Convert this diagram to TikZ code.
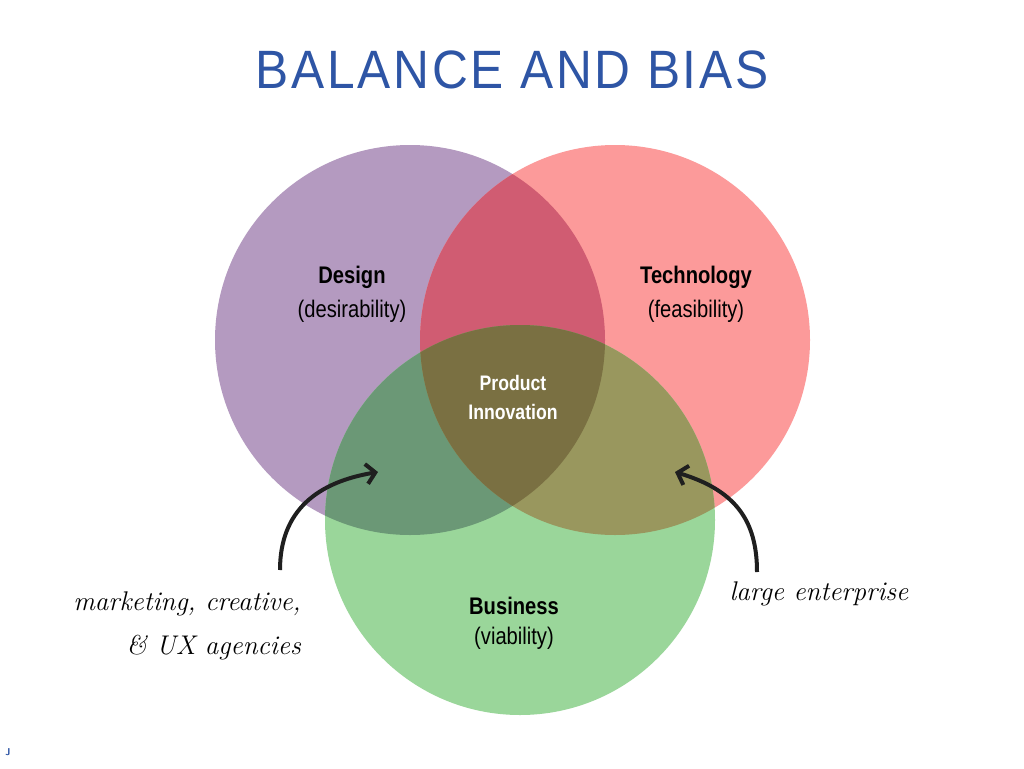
\documentclass[tikz,border=0pt]{standalone}
\usepackage{fontspec}
\usetikzlibrary{arrows.meta}
\newfontfamily\titlefont[LetterSpace=5,FakeStretch=0.92]{Liberation Sans}
\newfontfamily\condfont[FakeStretch=0.84]{Liberation Sans}
\definecolor{cpurple}{RGB}{180,154,192}
\definecolor{cred}{RGB}{252,154,154}
\definecolor{cgreen}{RGB}{154,214,154}
\definecolor{cpr}{RGB}{208,92,114}
\definecolor{cpg}{RGB}{107,152,118}
\definecolor{crg}{RGB}{153,151,94}
\definecolor{call}{RGB}{122,112,66}
\definecolor{ctitle}{RGB}{46,85,165}
\begin{document}
\begin{tikzpicture}[x=1pt,y=-1pt,
  lbold/.style={font=\condfont\bfseries\fontsize{24}{28}\selectfont, inner sep=0pt},
  lreg/.style={font=\condfont\fontsize{24}{28}\selectfont, inner sep=0pt},
  hand/.style={font=\itshape\fontsize{27}{34}\selectfont, inner sep=0pt},
  arr/.style={line width=4pt, color=black!88, -{Straight Barb[length=9pt,width=20pt,line width=4pt]}}]
\useasboundingbox (0,0) rectangle (1024,768);
\fill[white] (0,0) rectangle (1024,768);
\def\cP{(410,340) circle[radius=195]}
\def\cR{(615,340) circle[radius=195]}
\def\cG{(520,520) circle[radius=195]}
\fill[cpurple] \cP;
\fill[cred] \cR;
\fill[cgreen] \cG;
\begin{scope}\clip \cP; \fill[cpr] \cR; \fill[cpg] \cG; \end{scope}
\begin{scope}\clip \cR; \fill[crg] \cG; \end{scope}
\begin{scope}\clip \cP; \clip \cR; \fill[call] \cG; \end{scope}
\node[font=\titlefont\fontsize{54}{60}\selectfont, text=ctitle, inner sep=0pt] (title) at (512,70) {BALANCE AND BIAS};
\node[lbold] (design) at (352,277) {Design};
\node[lreg] (designs) at (352,311) {(desirability)};
\node[lbold] (tech) at (696,277) {Technology};
\node[lreg] (techs) at (696,311) {(feasibility)};
\node[lbold, text=white, font=\condfont\bfseries\fontsize{21}{25}\selectfont] (prod) at (513,383) {Product};
\node[lbold, text=white, font=\condfont\bfseries\fontsize{21}{25}\selectfont] (innov) at (513,412) {Innovation};
\node[lbold] (bus) at (514,606) {Business};
\node[lreg] (buss) at (514,638) {(viability)};
\node[hand, anchor=east] (mkt1) at (301,604) {marketing, creative,};
\node[hand, anchor=east] (mkt2) at (301,648) {\& UX agencies};
\node[hand] (large) at (819,594) {large enterprise};
\coordinate (la) at (280,570);
\coordinate (lb) at (378,472);
\coordinate (ra) at (757,572);
\coordinate (rb) at (675,472);
\draw[arr] (la) .. controls (280,510) and (318,482) .. (lb);
\draw[arr] (ra) .. controls (757,520) and (735,490) .. (rb);
\node[font=\sffamily\bfseries\fontsize{10}{12}\selectfont, text=ctitle, inner sep=0pt] (j) at (8,752) {J};
\end{tikzpicture}
\end{document}
